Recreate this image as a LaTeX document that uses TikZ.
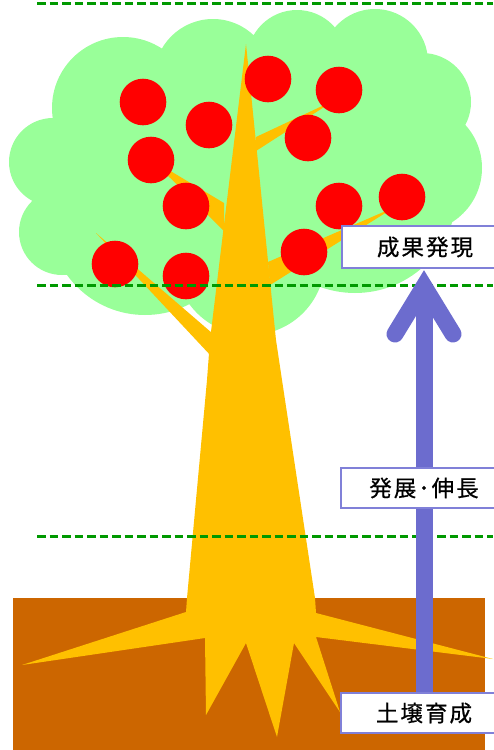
\documentclass[tikz,border=0pt]{standalone}
\usepackage{fontspec}
\newfontfamily\jp[LetterSpace=9, FakeBold=0.6]{Noto Sans CJK JP}
\usetikzlibrary{calc}
\definecolor{leaf}{RGB}{153,255,153}
\definecolor{bark}{RGB}{255,192,0}
\definecolor{soil}{RGB}{204,102,0}
\definecolor{fruit}{RGB}{255,0,0}
\definecolor{guide}{RGB}{0,153,0}
\definecolor{flow}{RGB}{108,108,206}
\definecolor{frame}{RGB}{128,128,216}
\pgfdeclarelayer{back}
\pgfdeclarelayer{mid}
\pgfsetlayers{back,mid,main}
\tikzset{
  stage/.style={draw=frame, line width=1.8pt, fill=white, inner sep=0pt,
    outer sep=0pt, minimum width=166pt,
    font=\jp\fontsize{22.5}{22.5}\selectfont},
  level/.style={draw=guide, line width=3pt, dash pattern=on 8.5pt off 4pt},
  apple/.style={fill=fruit},
  flowline/.style={draw=flow, line width=17pt},
}
\begin{document}
\begin{tikzpicture}[x=1pt,y=-1pt]
\useasboundingbox (0,0) rectangle (493,750);

% stage labels
\node[stage, minimum height=42pt] (b1) at (425,247) {成果発現};
\node[stage, minimum height=40pt] (b2) at (424,488) {発展･伸長};
\node[stage, minimum height=40pt] (b3) at (424,713) {土壌育成};

\begin{pgfonlayer}{back}
  % foliage
  \fill[leaf]
    (123,108) circle[radius=71pt]
    (213,78)  circle[radius=59pt]
    (297,60)  circle[radius=50pt]
    (375,62)  circle[radius=53pt]
    (422,102) circle[radius=49pt]
    (418,168) circle[radius=64pt]
    (53,162)  circle[radius=44pt]
    (62,232)  circle[radius=43pt]
    (145,219) circle[radius=96pt]
    (250,260) circle[radius=75pt]
    (355,191) circle[radius=102pt]
    (250,160) ellipse[x radius=180pt, y radius=110pt];

  % soil
  \fill[soil] (13,598) rectangle (485,760);

  % trunk with roots
  \fill[bark] (246,44) -- (276,340) -- (282,380) -- (315,598) -- (316,613)
    -- (493,659) -- (316,637) -- (340,712) -- (294,643) -- (277,737)
    -- (246,643) -- (206,715) -- (205,638) -- (22,665) -- (186,612)
    -- (187,598) -- (207,380) -- (210,340) -- cycle;

  % branches
  \fill[bark] (96,233) -- (212,333) -- (212,357) -- cycle;
  \fill[bark] (152,160) -- (224,203) -- (224,231) -- cycle;
  \fill[bark] (335,100) -- (256,137) -- (256,151) -- cycle;
  \fill[bark] (395,207) -- (268,262) -- (270,285) -- cycle;

  % fruit
  \foreach \p in {(143,102),(209,125),(151,160),(186,206),(115,264),(186,276),
                  (268,79),(339,90),(308,138),(339,206),(402,197),(304,252)}
    \fill[apple] \p circle[radius=23.3pt];

  % level lines
  \draw[level] (37,3)   -- (493,3);
  \draw[level] (37,285) -- (493,285);
  \draw[level] (37,536) -- (493,536);
\end{pgfonlayer}

\begin{pgfonlayer}{mid}
  \coordinate (v) at ([shift={(-1,18.5)}]b1.south);
  \draw[flowline] (b3.center) -- (v);
  \draw[flowline, line cap=round, line join=miter]
    ([shift={(-30,66)}]b1.south) -- (v) -- ([shift={(28,66)}]b1.south);
\end{pgfonlayer}
\end{tikzpicture}
\end{document}
